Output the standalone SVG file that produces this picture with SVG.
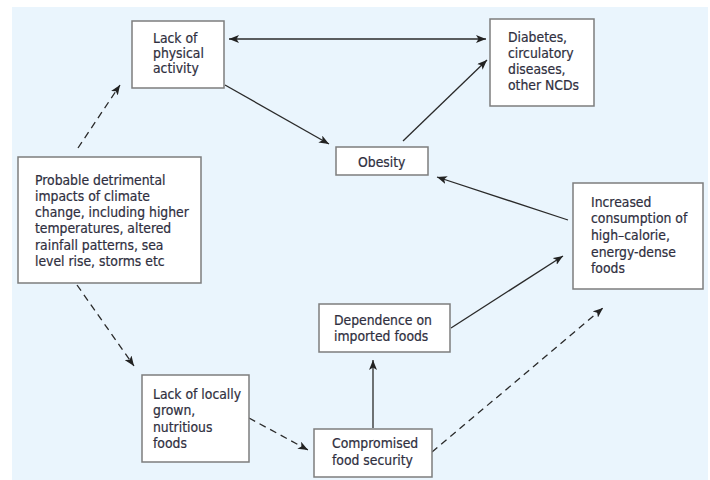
<svg xmlns="http://www.w3.org/2000/svg" width="710" height="480" viewBox="0 0 710 480">
<defs>
<marker id="ah" markerUnits="userSpaceOnUse" markerWidth="10" markerHeight="8" refX="10" refY="4" orient="auto-start-reverse">
<path d="M0,0 L10,4 L0,8 L2.5,4 z" fill="#222"/>
</marker>
<style>
.box{fill:#ffffff;stroke:#7d7d7d;stroke-width:1.5}
.t{font-family:"DejaVu Sans Condensed","DejaVu Sans","Liberation Sans",sans-serif;font-stretch:condensed;font-size:13.8px;fill:#2f2f40;stroke:#2f2f40;stroke-width:0.2}
.c{fill:none;stroke:#2a2a2a;stroke-width:1.3}
.d{stroke-dasharray:7 5}
</style>
</defs>
<rect x="12" y="7" width="696" height="473" fill="#eaf5fd"/>
<g id="connectors">
<line class="c" x1="229" y1="39" x2="486" y2="39" marker-start="url(#ah)" marker-end="url(#ah)"/>
<line class="c" x1="225" y1="85" x2="329" y2="144" marker-end="url(#ah)"/>
<line class="c" x1="403" y1="141" x2="487" y2="60" marker-end="url(#ah)"/>
<line class="c" x1="568" y1="220" x2="437" y2="177" marker-end="url(#ah)"/>
<line class="c d" x1="78" y1="148" x2="120" y2="85" marker-end="url(#ah)"/>
<line class="c d" x1="77" y1="285" x2="134" y2="366" marker-end="url(#ah)"/>
<line class="c d" x1="249" y1="418" x2="308" y2="450" marker-end="url(#ah)"/>
<line class="c" x1="373" y1="428" x2="373" y2="360" marker-end="url(#ah)"/>
<line class="c" x1="451" y1="328" x2="563" y2="256" marker-end="url(#ah)"/>
<line class="c d" x1="432" y1="452" x2="603" y2="308" marker-end="url(#ah)"/>
</g>
<g id="lack-physical">
<rect class="box" x="132" y="21" width="92" height="67"/>
<text class="t" x="153" y="43">Lack of</text>
<text class="t" x="153" y="58">physical</text>
<text class="t" x="153" y="73">activity</text>
</g>
<g id="diabetes">
<rect class="box" x="490" y="19" width="104" height="87"/>
<text class="t" x="508" y="42">Diabetes,</text>
<text class="t" x="508" y="58">circulatory</text>
<text class="t" x="508" y="74">diseases,</text>
<text class="t" x="508" y="90">other NCDs</text>
</g>
<g id="obesity">
<rect class="box" x="336" y="147" width="92" height="28"/>
<text class="t" x="358" y="167">Obesity</text>
</g>
<g id="climate">
<rect class="box" x="18" y="157" width="183" height="126"/>
<text class="t" x="35" y="185">Probable detrimental</text>
<text class="t" x="35" y="201">impacts of climate</text>
<text class="t" x="35" y="217">change, including higher</text>
<text class="t" x="35" y="233">temperatures, altered</text>
<text class="t" x="35" y="250">rainfall patterns, sea</text>
<text class="t" x="35" y="266">level rise, storms etc</text>
</g>
<g id="increased">
<rect class="box" x="573" y="183" width="130" height="106"/>
<text class="t" x="591" y="207">Increased</text>
<text class="t" x="591" y="223">consumption of</text>
<text class="t" x="591" y="240">high–calorie,</text>
<text class="t" x="591" y="257">energy-dense</text>
<text class="t" x="591" y="273">foods</text>
</g>
<g id="dependence">
<rect class="box" x="319" y="304" width="131" height="48"/>
<text class="t" x="334" y="325">Dependence on</text>
<text class="t" x="334" y="341">imported foods</text>
</g>
<g id="lack-local">
<rect class="box" x="142" y="375" width="107" height="87"/>
<text class="t" x="153" y="399">Lack of locally</text>
<text class="t" x="153" y="415">grown,</text>
<text class="t" x="153" y="432">nutritious</text>
<text class="t" x="153" y="448">foods</text>
</g>
<g id="compromised">
<rect class="box" x="314" y="429" width="118" height="48"/>
<text class="t" x="332" y="448">Compromised</text>
<text class="t" x="332" y="465">food security</text>
</g>
</svg>
